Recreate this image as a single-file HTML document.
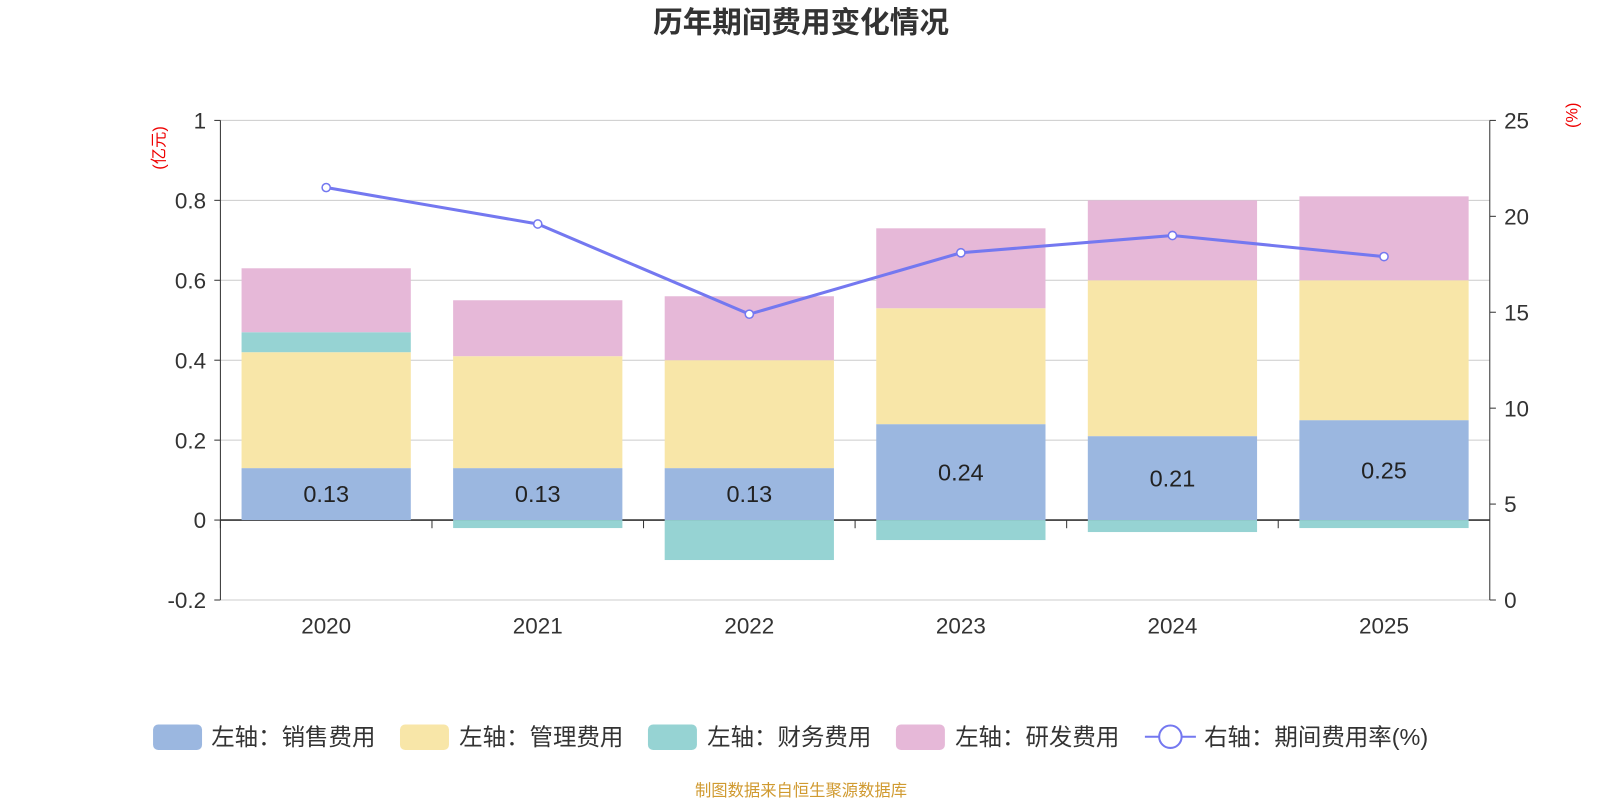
<!DOCTYPE html>
<html><head><meta charset="utf-8"><style>
body{margin:0;background:#fff;font-family:"Liberation Sans","Noto Sans CJK SC",sans-serif}
svg text{font-family:"Liberation Sans","Noto Sans CJK SC",sans-serif}
</style></head><body>
<svg id="c" width="1600" height="800" viewBox="0 0 1600 800">
<g transform="scale(1.0204)">
<text x="785" y="32" text-anchor="middle" font-size="29" font-weight="bold" fill="#333">历年期间费用变化情况</text>
<text transform="translate(161,145) rotate(-90)" text-anchor="middle" font-size="16" fill="#e00">(亿元)</text>
<text transform="translate(1546,113) rotate(-90)" text-anchor="middle" font-size="16" fill="#e00">(%)</text>
<g id="grid"></g><g id="bars"></g><g id="axes"></g><g id="line"></g>
<g font-size="23" fill="#333">
<rect x="150" y="710" width="48" height="25" rx="5" fill="#9bb7e0"/><text x="207" y="730">左轴：销售费用</text>
<rect x="392" y="710" width="48" height="25" rx="5" fill="#f8e6a8"/><text x="450" y="730">左轴：管理费用</text>
<rect x="635" y="710" width="48" height="25" rx="5" fill="#96d3d3"/><text x="693" y="730">左轴：财务费用</text>
<rect x="878" y="710" width="48" height="25" rx="5" fill="#e6b8d8"/><text x="936" y="730">左轴：研发费用</text>
<line x1="1122" y1="722" x2="1172" y2="722" stroke="#7478f0" stroke-width="2"/><circle cx="1147" cy="722" r="11" fill="#fff" stroke="#7478f0" stroke-width="2"/><text x="1180" y="730">右轴：期间费用率(%)</text>
</g>
<text x="785" y="780" text-anchor="middle" font-size="16" fill="#d09a30">制图数据来自恒生聚源数据库</text>
</g>
</svg>
<script>
const years=["2020","2021","2022","2023","2024","2025"];
const sales=[0.13,0.13,0.13,0.24,0.21,0.25];
const admin=[0.29,0.28,0.27,0.29,0.39,0.35];
const finance=[0.05,-0.02,-0.10,-0.05,-0.03,-0.02];
const rd=[0.16,0.14,0.16,0.20,0.20,0.21];
const rate=[21.5,19.6,14.9,18.1,19.0,17.9];
const leftTicks=[-0.2,0,0.2,0.4,0.6,0.8,1];
const rightTicks=[0,5,10,15,20,25];
const NS="http://www.w3.org/2000/svg";
const X0=216,X1=1460,Y0=118,Y1=588;
const yL=v=>Y1-(v+0.2)/1.2*(Y1-Y0);
const yR=v=>Y1-v/25*(Y1-Y0);
const bw=(X1-X0)/years.length;
const xc=i=>X0+bw*(i+0.5);
function mk(p,t,a){const e=document.createElementNS(NS,t);for(const k in a)e.setAttribute(k,a[k]);document.getElementById(p).appendChild(e);return e;}
leftTicks.forEach(v=>{
 const g=mk('grid','line',{x1:X0,x2:X1,y1:yL(v),y2:yL(v),stroke:v===0?'#333':'#ccc','stroke-width':v===0?1.5:1});
 
 
 const t=mk('axes','text',{x:X0-14,y:yL(v)+8,'text-anchor':'end','font-size':22,fill:'#333'});t.textContent=String(v);
 
 
 mk('axes','line',{x1:X0-6,x2:X0,y1:yL(v),y2:yL(v),stroke:'#333'});
});
mk('axes','line',{x1:X0,x2:X0,y1:Y0,y2:Y1,stroke:'#333'});
mk('axes','line',{x1:X1,x2:X1,y1:Y0,y2:Y1,stroke:'#333'});
rightTicks.forEach(v=>{
 mk('axes','line',{x1:X1,x2:X1+6,y1:yR(v),y2:yR(v),stroke:'#333'});
 const t=mk('axes','text',{x:X1+14,y:yR(v)+8,'font-size':22,fill:'#333'});t.textContent=String(v);
 
 
});
years.forEach((y,i)=>{
 mk('axes','line',{x1:X0+bw*i,x2:X0+bw*i,y1:yL(0),y2:yL(0)+8,stroke:'#333'});
 const t=mk('axes','text',{x:xc(i),y:621,'text-anchor':'middle','font-size':22,fill:'#333'});t.textContent=y;
 
 
 const x=xc(i)-bw*0.4,w=bw*0.8;let pos=0,neg=0;
 [[sales,'#9bb7e0','bar-sales'],[admin,'#f8e6a8','bar-admin'],[finance,'#96d3d3','bar-finance'],[rd,'#e6b8d8','bar-rd']].forEach(([arr,col,nm])=>{
  const v=arr[i];let a,b;
  if(v>=0){a=pos;b=pos+v;pos=b;}else{a=neg;b=neg+v;neg=b;}
  const r=mk('bars','rect',{x:x,width:w,y:Math.min(yL(a),yL(b)),height:Math.abs(yL(a)-yL(b)),fill:col});
  
  
 });
 const l=mk('bars','text',{x:xc(i),y:(yL(0)+yL(sales[i]))/2+8,'text-anchor':'middle','font-size':23,fill:'#222'});l.textContent=sales[i].toFixed(2);
 
 
});
const pl=mk('line','polyline',{points:rate.map((v,i)=>xc(i)+','+yR(v)).join(' '),fill:'none',stroke:'#7478f0','stroke-width':3});


rate.forEach((v,i)=>{
 const c=mk('line','circle',{cx:xc(i),cy:yR(v),r:4,fill:'#fff',stroke:'#7478f0','stroke-width':1.5});
 
 
});
</script>
</body></html>
